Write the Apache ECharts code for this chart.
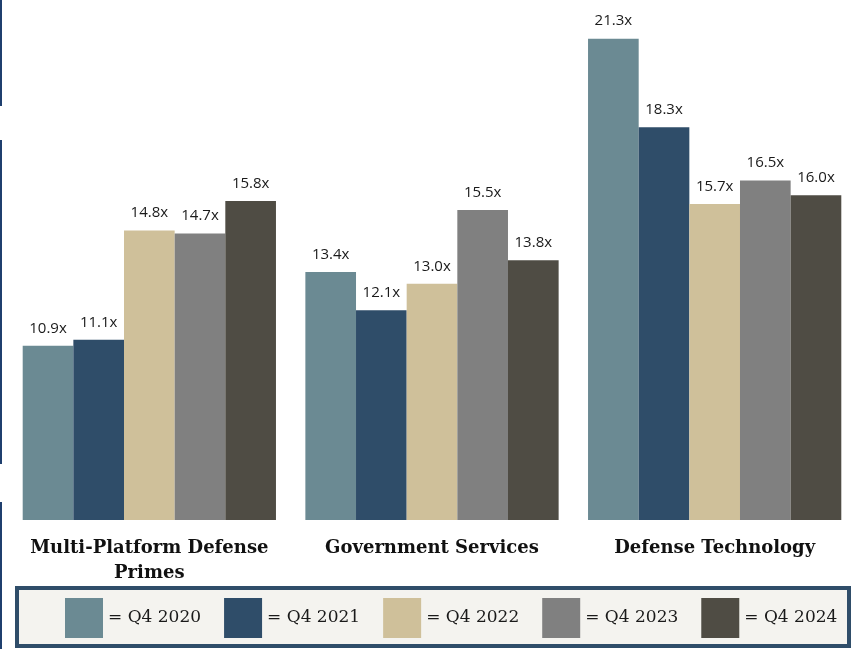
<!DOCTYPE html>
<html>
<head>
<meta charset="utf-8">
<script src="https://cdn.jsdelivr.net/npm/echarts@6/dist/echarts.min.js"></script>
<style>
  html, body { margin: 0; padding: 0; background: #fff; }
  #chart { width: 856px; height: 649px; }
</style>
</head>
<body>
<div id="chart"></div>
<script>
'use strict'

// data
var categories = ['Multi-Platform Defense\nPrimes', 'Government Services', 'Defense Technology'];
var seriesNames = ['Q4 2020', 'Q4 2021', 'Q4 2022', 'Q4 2023', 'Q4 2024'];
var q42020 = [10.9, 13.4, 21.3];
var q42021 = [11.1, 12.1, 18.3];
var q42022 = [14.8, 13.0, 15.7];
var q42023 = [14.7, 15.5, 16.5];
var q42024 = [15.8, 13.8, 16.0];
var seriesValues = [q42020, q42021, q42022, q42023, q42024];
var colors = ['#6b8a93', '#2f4d69', '#cfc09a', '#808080', '#4f4c44'];

var chart = echarts.init(document.getElementById('chart'));

var series = seriesNames.map(function (name, i) {
    return {
        name: name,
        type: 'bar',
        data: seriesValues[i],
        barGap: 0,
        barCategoryGap: '10.4%',
        itemStyle: { color: colors[i] },
        label: {
            show: true,
            position: 'top',
            distance: 10,
            formatter: function (p) { return p.value.toFixed(1) + 'x'; },
            fontFamily: 'Open Sans',
            fontSize: 15,
            color: '#1a1a1a'
        }
    };
});

var option = {
    backgroundColor: '#ffffff',
    animation: false,
    color: colors,
    grid: { left: 8, right: 0, top: 18, bottom: 129, containLabel: false },
    xAxis: {
        type: 'category',
        data: categories,
        axisLine: { show: false },
        axisTick: { show: false },
        axisLabel: {
            interval: 0,
            margin: 16,
            fontFamily: 'DejaVu Serif',
            fontWeight: 'bold',
            fontSize: 18,
            lineHeight: 25,
            color: '#111'
        }
    },
    yAxis: {
        type: 'value',
        min: 5,
        max: 22,
        show: false
    },
    legend: {
        left: 60,
        top: 593,
        itemWidth: 38,
        itemHeight: 40,
        itemGap: 23,
        icon: 'rect',
        formatter: function (name) { return '= ' + name; },
        textStyle: {
            fontFamily: 'DejaVu Serif',
            fontSize: 17,
            color: '#1a1a1a'
        },
        data: seriesNames
    },
    graphic: [
        // legend frame
        { type: 'rect', z: -1, shape: { x: 17, y: 588, width: 832, height: 58 },
          style: { fill: '#f4f3ef', stroke: '#2f4d69', lineWidth: 4 } },
        // left edge marks
        { type: 'line', shape: { x1: 1, y1: 0, x2: 1, y2: 106 }, style: { stroke: '#1f3f6e', lineWidth: 2 } },
        { type: 'line', shape: { x1: 1, y1: 140, x2: 1, y2: 464 }, style: { stroke: '#1f3f6e', lineWidth: 2 } },
        { type: 'line', shape: { x1: 1, y1: 502, x2: 1, y2: 649 }, style: { stroke: '#1f3f6e', lineWidth: 2 } }
    ],
    series: series
};

chart.setOption(option);
</script>
</body>
</html>
